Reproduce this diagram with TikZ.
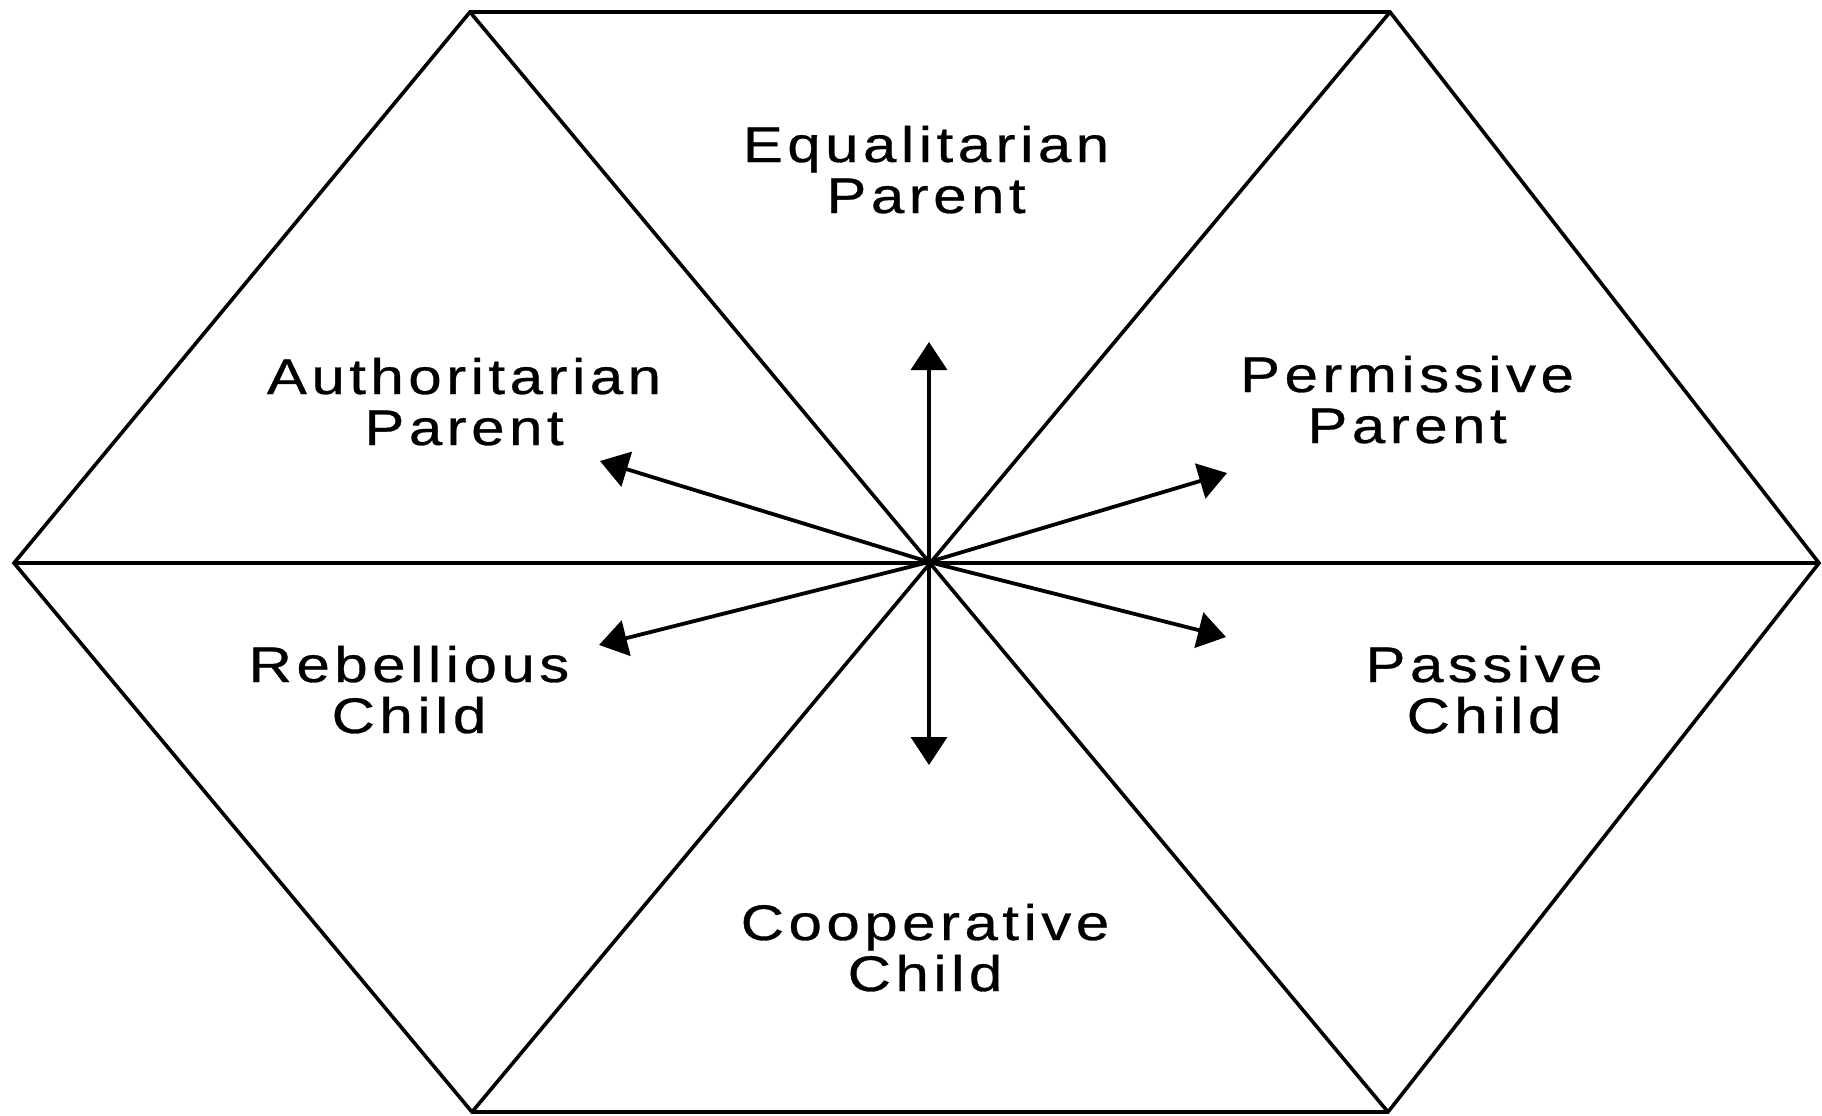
\documentclass[tikz,border=0pt]{standalone}
\usepackage{fontspec}
\setmainfont{Liberation Sans}[FakeStretch=1.2, LetterSpace=9, FakeBold=0.6]
\usetikzlibrary{arrows.meta}
\begin{document}
\begin{tikzpicture}[x=0.5pt,y=-0.5pt,
  edge/.style={line width=1.8pt, line join=miter},
  ray/.style={line width=1.9pt, -{Triangle[width=18pt,length=14pt]}},
  lbl/.style={font=\fontsize{25pt}{25.5pt}\selectfont, align=center, anchor=base, inner sep=0pt}]
\useasboundingbox (0,0) rectangle (1822,1115);
% hexagon corners and centre
\coordinate (tl) at (470,12);
\coordinate (tr) at (1390,12);
\coordinate (r)  at (1819,563);
\coordinate (br) at (1388,1112);
\coordinate (bl) at (472,1112);
\coordinate (l)  at (14,563);
\coordinate (c)  at (929,562);
% outline and the three diagonals
\draw[edge] (tl) -- (tr) -- (r) -- (br) -- (bl) -- (l) -- cycle;
\draw[edge] (l) -- (r);
\draw[edge] (tl) -- (br);
\draw[edge] (tr) -- (bl);
% arrow tips
\coordinate (aup) at (929,342);
\coordinate (adn) at (929,765);
\coordinate (aul) at (600,461);
\coordinate (aur) at (1227,473);
\coordinate (all) at (599,645);
\coordinate (alr) at (1226,637);
\foreach \t in {aup,adn,aul,aur,all,alr} \draw[ray] (c) -- (\t);
% labels (placed at the baseline of their second line)
\node[lbl] (eq) at (926,213) {Equalitarian\\Parent};
\node[lbl] (au) at (464,445) {Authoritarian\\Parent};
\node[lbl] (pe) at (1407,443) {Permissive\\Parent};
\node[lbl] (re) at (409,733) {Rebellious\\Child};
\node[lbl] (pa) at (1484,733) {Passive\\Child};
\node[lbl] (co) at (925,991) {Cooperative\\Child};
\end{tikzpicture}
\end{document}
